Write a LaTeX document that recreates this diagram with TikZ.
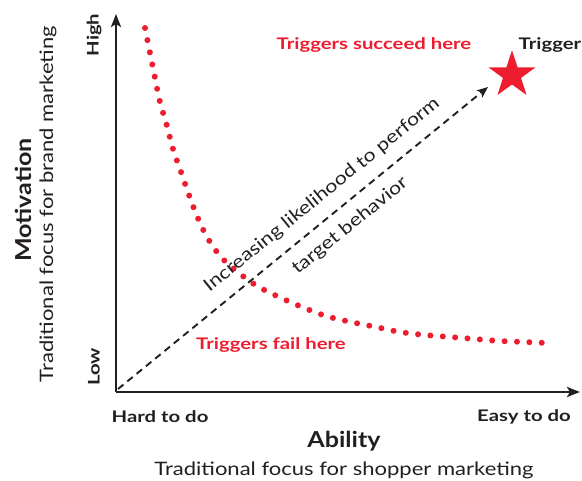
\documentclass[tikz,border=0pt]{standalone}
\usepackage{fontspec}
\setmainfont{Lato}
\newfontfamily\fReg[FakeStretch=1.19]{Lato}
\newfontfamily\fLbl[FakeStretch=1.27]{Lato}
\newfontfamily\fTtl[FakeStretch=1.14]{Lato}
\usetikzlibrary{arrows.meta,shapes.geometric}
\definecolor{trigred}{RGB}{237,28,46}
\definecolor{ink}{RGB}{35,31,32}
\tikzset{
  axis/.style={draw=ink,line width=2.4pt,-{Stealth[length=13pt,width=10pt,inset=3pt]}},
  likely/.style={draw=ink,line width=1.9pt,dash pattern=on 7pt off 5pt,-{Stealth[length=11pt,width=9pt,inset=2.5pt]}},
  redlbl/.style={text=trigred,font=\fLbl\fontsize{16}{19}\selectfont\bfseries,inner sep=0pt},
  boldlbl/.style={text=ink,font=\fLbl\fontsize{16}{19}\selectfont\bfseries,inner sep=0pt},
  titlelbl/.style={text=ink,font=\fTtl\fontsize{22}{26}\selectfont\bfseries,inner sep=0pt},
  sublbl/.style={text=ink,font=\fReg\fontsize{18.5}{22}\selectfont,inner sep=0pt},
  diaglbl/.style={text=ink,font=\fReg\fontsize{18}{21}\selectfont,inner sep=0pt,rotate=39},
  dots/.style={draw=trigred,line width=6pt,line cap=round,dash pattern=on 0pt off 12.4pt},
}
\begin{document}
\begin{tikzpicture}[x=1pt,y=-1pt]
\useasboundingbox (0,0) rectangle (582,481);
\coordinate (O) at (116,392);
\coordinate (ytip) at (116,14);
\coordinate (xtip) at (580,392);
\coordinate (dstart) at (118,389);
\coordinate (dend) at (488,87);
% red dotted curve
\draw[dots] plot[smooth,tension=0.6] coordinates {(145,28) (150,53) (155,78) (160,102) (167,126) (173,149) (181,172) (189,195) (197,216) (207,237) (221,257) (239,273) (257,286) (279,297) (302,307) (326,316) (351,322) (376,327) (400,332) (425,335) (450,337) (475,339) (500,341) (525,342) (546,343)};
% axes
\draw[axis] (O) -- (ytip);
\draw[axis] (O) -- (xtip);
% dashed arrow
\draw[likely] (dstart) -- (dend);
% star
\node[star,star points=5,star point ratio=2.6,fill=trigred,inner sep=0pt,minimum size=49.4pt] (star) at (512,75) {};
% labels
\node[boldlbl,rotate=90] (high) at (94,35) {High};
\node[boldlbl,rotate=90] (low) at (94,367) {Low};
\node[titlelbl,rotate=90] (mot) at (23,200) {Motivation};
\node[sublbl,rotate=90] (brand) at (48,204) {Traditional focus for brand marketing};
\node[boldlbl] (hard) at (160,417) {Hard to do};
\node[boldlbl] (easy) at (524,417) {Easy to do};
\node[titlelbl] (abil) at (344,441) {Ability};
\node[sublbl] (shop) at (344,470) {Traditional focus for shopper marketing};
\node[redlbl] (succ) at (374,45) {Triggers succeed here};
\node[boldlbl] (trig) at (550,45) {Trigger};
\node[redlbl] (fail) at (271,345) {Triggers fail here};
\node[diaglbl] (inc) at (322,195) {Increasing likelihood to perform};
\node[diaglbl] (tb) at (350,226) {target behavior};
\end{tikzpicture}
\end{document}
